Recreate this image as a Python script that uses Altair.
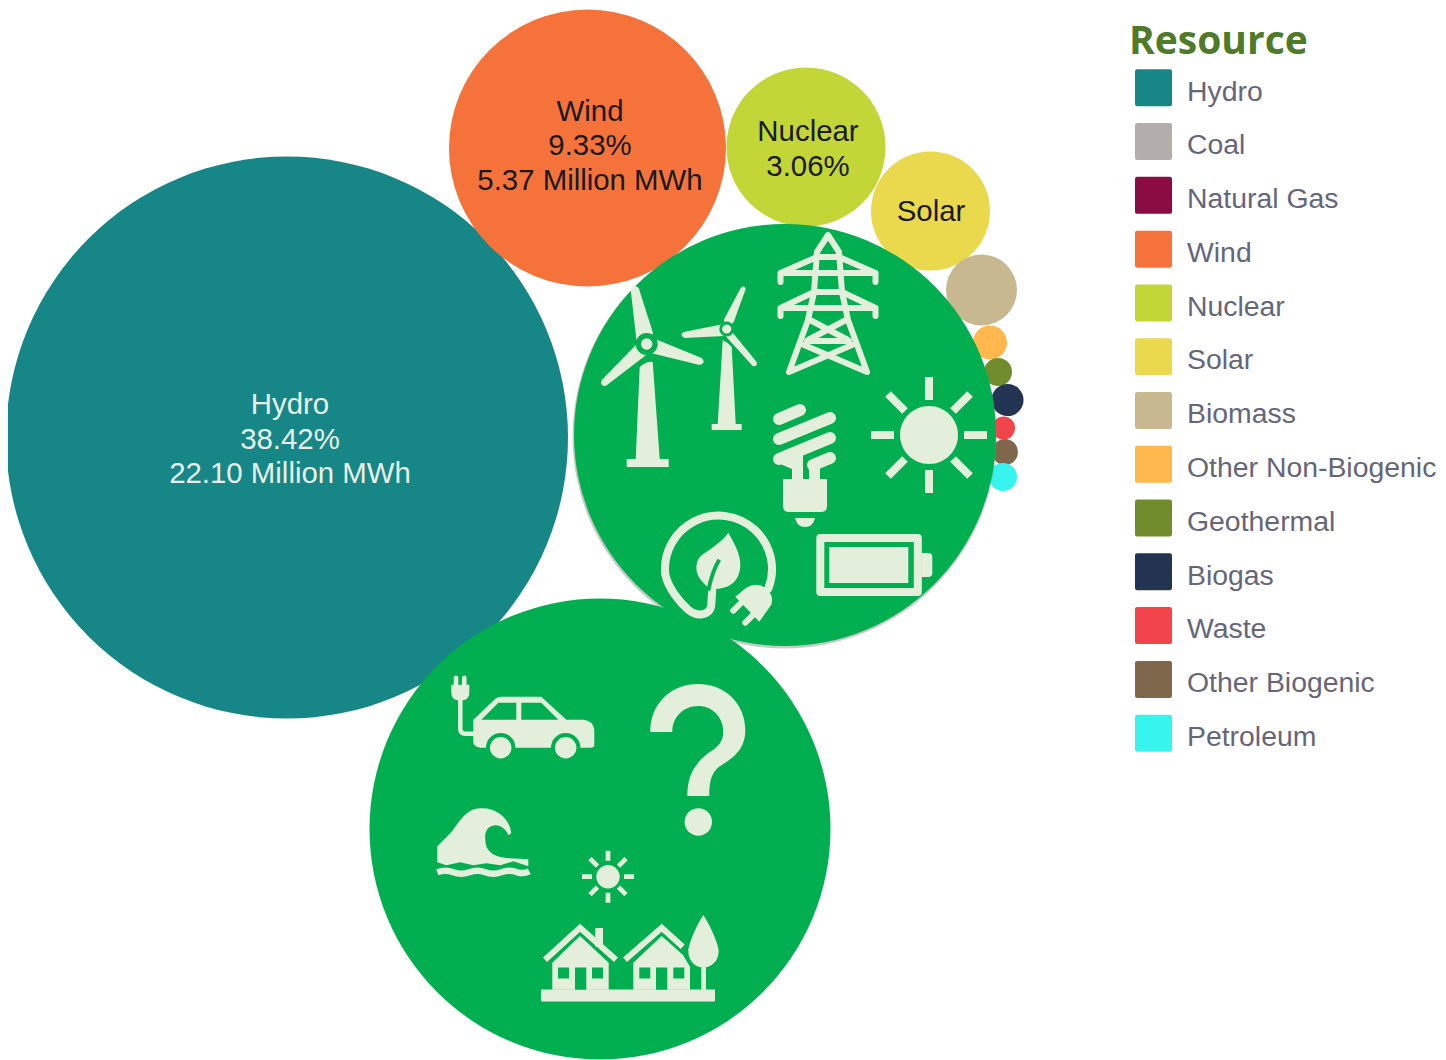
import altair as alt
import pandas as pd

# ---------- bubble data ----------
resources = ["Hydro", "Coal", "Natural Gas", "Wind", "Nuclear", "Solar", "Biomass",
             "Other Non-Biogenic", "Geothermal", "Biogas", "Waste", "Other Biogenic", "Petroleum"]
colors = ["#178686", "#b3aeab", "#8a0c42", "#f5733b", "#c2d638", "#ead84d", "#c7b88f",
          "#ffb84d", "#718c2c", "#223452", "#f2444b", "#7f674c", "#37f5ee"]
million_mwh = [22.10, 12.0, 14.6, 5.37, 1.77, 0.99, 0.353, 0.081, 0.055, 0.072, 0.037, 0.047, 0.055]
bubble_x = [287, 785, 600, 587.5, 806, 930.5, 981.5, 990, 998, 1007.5, 1003.5, 1005, 1003]
bubble_y = [437.5, 435, 829, 148, 147, 211, 290, 342.5, 372, 400, 428, 452, 477]

label_text = ["Hydro\n38.42%\n22.10 Million MWh", "Wind\n9.33%\n5.37 Million MWh", "Nuclear\n3.06%", "Solar"]
label_x = [290, 590, 808, 931]
label_y = [405, 111.5, 132, 211.5]
label_color = ["#e8efe8", "#1a1a1a", "#1a1a1a", "#1a1a1a"]

shadow_x = [784.5]
shadow_y = [436.5]
shadow_radius = [212]
cover_x = [785, 600]
cover_y = [435, 829]
cover_radius = [211, 230.5]

CREAM = "#e4efdb"
GREEN = "#02af50"
NONE = "transparent"


def circle(r):
    return f"M{r},0A{r},{r} 0 1,1 {-r},0A{r},{r} 0 1,1 {r},0Z"


# ---------- icon outlines, in pixels around each anchor ----------
T1 = ("M-16,-54L-10,-2L6,-2L6,-12L-8,-56Q-13,-61 -16,-54Z"
      "M6,-6L55,14Q60,19 53,21L0,8Z"
      "M-6,-4L-45,36Q-47,42 -41,42L6,6Z")
T1_TOWER = "M-7,23Q0,17 6,18L13,115H22V123H-20V115H-11Z"
T2 = ("M-3,-9L14,-41Q18,-45 19,-40L7,-7L0,0Z"
      "M-3,-5L-43,3Q-48,6 -42,9L-3,7Z"
      "M3,0L30,33Q31,38 26,37L-3,5Z")
T2_TOWER = "M-4,11Q2,14 5,18L9,95H15V101H-15V95H-9Z"
PYLON = ("M-39,72L-20,20L-14,-8L-11,-48L0,-65L11,-48L14,-8L20,20L39,72"
         "M-11,-43H11M-47.5,-18V-27H47.5V-18M-47.5,-27L-11,-43M47.5,-27L11,-43"
         "M-14,-8H14M-47.5,16V8H47.5V16M-47.5,8L-14,-8M47.5,8L14,-8"
         "M-18,20L20,40M18,20L-20,40M-21,41H21M-24,45L39,72M24,45L-39,72")
BULB_BARS = "M-26,-51L-5,-60M-26,-31L25,-52M-26,-11L25,-32M8,-5L25,-12"
BULB_BODY = ("M-22,9H22V36Q22,42 16,42H-16Q-22,42 -22,36Z"
             "M-10,48H10Q8,57 0,57Q-8,57 -10,48Z"
             "M-27,-12L-2,-18V12H-13V-1L-27,-7Z"
             "M4,12V-8L15,-5V12Z")
SUN_RAYS = ("M0,-35V-58M0,35V58M35,0H58M-35,0H-58"
            "M24,-24L41,-41M-24,-24L-41,-41M24,24L41,41M-24,24L-41,41")
SMALL_RAYS = ("M0,-16V-26M0,16V26M16,0H26M-16,0H-26"
              "M10.5,-10.5L18,-18M-10.5,-10.5L-18,-18M10.5,10.5L18,18M-10.5,10.5L-18,18")
BATTERY_BAND = "M-48,-27H49.5V27H-48Z"
BATTERY_CORE = "M-39,-18H40V18H-39ZM53,-12H60Q64,-12 64,-8V8Q64,12 60,12H53Z"
CORD = "M50,22A53.5,53.5 0 1,0 -53,8C-50,22 -38,36 -30,43C-22,50 -8,50 -7,38L-6,22"
PLUG_PINS = "M15,44L22,37M27,56L35,48"
LEAF = ("M10,-34C17,-22 22,-12 22,-2C22,13 12,22 -2,22L-11,20C-20,12 -24,4 -21,-5"
        "C-19,-12 -12,-14 -6,-19C0,-24 6,-28 10,-34Z")
VEIN = "M1,-7Q-6,4 -10,24"
PLUG = "M17,30L28,21Q38,15 47,21Q56,28 53,38L41,55Z"
CAR_BODY = ("M-60,-7L-38,-28Q-35,-30 -32,-30H8L33,-7H50Q61,-6 61,5V18Q61,21 57,21H-53Q-60,20 -60,15Z")
CAR_WINDOWS = "M-52,-7L-35,-24H-17V-7ZM-12,-24H8L25,-7H-12Z"
CAR_CORD = "M-60,7H-68Q-73,7 -73,2V-27M-77.3,-49V-42M-69,-49V-42"
CAR_HEAD = "M-82,-42H-64V-33Q-64,-27 -73,-26Q-82,-27 -82,-33Z"
QUESTION = ("M-48,-28C-48,-58 -26,-76 0,-76C27,-76 47,-56 47,-30C47,-13 38,-4 25,4"
            "C15,10 11,17 11,36H-11C-11,16 -4,4 10,-7C20,-13 25,-19 25,-28"
            "C25,-44 13,-54 0,-54C-15,-54 -26,-43 -26,-28Z")
WAVE = ("M-46,3L-33,-10C-26,-18 -18,-35 -3,-35C12,-36 26,-26 28,-10L25,-8"
        "C22,-16 14,-20 8,-17C1,-14 1,-6 3,3C6,12 18,15 27,15L45,16V23"
        "L30,18L17,22L3,20L-10,22L-23,19L-37,22L-46,19Z")
WAVE_LINE = "M-46,29Q-38,26 -30,29Q-22,32 -14,29Q-6,26 2,29Q10,32 18,29Q26,26 34,29Q40,31 46,28"
GROUND = "M-89,32.7H85V44.7H-89Z"
HOUSES = ("M-77.7,6L-50,-20.7L-21.3,6V33H-77.7Z"
          "M3.3,6L31.7,-20.7L53,-1.7L60,10V33H3.3Z"
          "M-34.7,-28.7H-27V-10H-34.7Z"
          "M71.3,5H76V33H71.3Z"
          "M73.3,-41.7C80,-32 88.7,-12 88.7,-6C88.7,4 82,10.7 73.3,10.7"
          "C64.7,10.7 58.3,4 58.3,-6C58.3,-12 66.7,-32 73.3,-41.7Z")
HOUSE_CUTS = ("M-72,10.7H-61V21.7H-72ZM-38,10.7H-27V21.7H-38ZM-55,10.7H-43.7V33H-55Z"
              "M9.3,10.7H20.3V21.7H9.3ZM43.3,10.7H54.3V21.7H43.3ZM26,10.7H37.3V33H26Z")
ROOFS = "M-85,3L-50,-29L-14,3M-5,3L31.7,-29L52.7,-10"

# ---------- icon parts with round caps and joins ----------
round_x = [828, 805, 868.3, 718.3, 718.3, 533.3]
round_y = [300, 470, 565, 566.7, 566.7, 726.7]
round_path = [PYLON, BULB_BARS, BATTERY_BAND, CORD, PLUG_PINS, CAR_CORD]
round_width = [6, 12, 8, 8, 6, 4.5]

# ---------- icon parts with square ends, painted in this order ----------
part_x = [646.7, 646.7, 646.7, 726.7, 726.7, 726.7, 805, 929, 929, 868.3, 718.3, 718.3, 718.3,
          533.3, 533.3, 500.7, 565.7, 533.3, 698.3, 698.3, 483.3, 483.3, 608, 608,
          630, 630, 630, 630]
part_y = [344, 344, 344, 329, 329, 329, 470, 435, 435, 565, 566.7, 566.7, 566.7,
          726.7, 726.7, 747.7, 747.7, 726.7, 760, 822, 843.3, 843.3, 876.7, 876.7,
          956.7, 956.7, 956.7, 956.7]
part_path = [T1, T1_TOWER, circle(8.35), T2, T2_TOWER, circle(6), BULB_BODY, circle(29), SUN_RAYS,
             BATTERY_CORE, LEAF, VEIN, PLUG,
             CAR_BODY, CAR_WINDOWS, circle(12.7), circle(12.7), CAR_HEAD, QUESTION, circle(13.7),
             WAVE, WAVE_LINE, circle(11.7), SMALL_RAYS,
             GROUND, HOUSES, HOUSE_CUTS, ROOFS]
part_fill = [CREAM, CREAM, CREAM, CREAM, CREAM, CREAM, CREAM, CREAM, NONE,
             CREAM, CREAM, NONE, CREAM,
             CREAM, GREEN, CREAM, CREAM, CREAM, CREAM, CREAM,
             CREAM, NONE, CREAM, NONE,
             CREAM, CREAM, GREEN, NONE]
part_stroke = [NONE, NONE, GREEN, NONE, NONE, GREEN, NONE, NONE, CREAM,
               NONE, NONE, GREEN, NONE,
               NONE, NONE, GREEN, GREEN, NONE, NONE, NONE,
               NONE, CREAM, NONE, CREAM,
               NONE, NONE, NONE, CREAM]
part_width = [0, 0, 5.3, 0, 0, 2.8, 0, 0, 8,
              0, 0, 4, 0,
              0, 0, 4, 4, 0, 0, 0,
              0, 6.5, 0, 4.7,
              0, 0, 0, 6]

# ---------- tables ----------
bubbles = pd.DataFrame({"Resource": resources, "value": million_mwh, "x": bubble_x, "y": bubble_y})
labels = pd.DataFrame({"x": label_x, "y": label_y, "text": label_text, "color": label_color})
shadows = pd.DataFrame({"x": shadow_x, "y": shadow_y, "area": [4 * r * r for r in shadow_radius]})
covers = pd.DataFrame({"x": cover_x, "y": cover_y, "area": [4 * r * r for r in cover_radius]})
round_parts = pd.DataFrame({"x": round_x, "y": round_y, "path": round_path, "w": round_width})
parts = pd.DataFrame({"x": part_x, "y": part_y, "path": part_path, "fill": part_fill,
                      "stroke": part_stroke, "w": part_width})

X = alt.X("x:Q", scale=alt.Scale(domain=[8, 1438], nice=False, zero=False), axis=None)
Y = alt.Y("y:Q", scale=alt.Scale(domain=[1060, 8], nice=False, zero=False), axis=None)

# legend swatch: rounded square sitting slightly above its label's centre, as in the reference
ROUNDED = "M-0.88,-1.2H0.88Q1,-1.2 1,-1.08V0.68Q1,0.8 0.88,0.8H-0.88Q-1,0.8 -1,0.68V-1.08Q-1,-1.2 -0.88,-1.2Z"

bubble_layer = alt.Chart(bubbles).mark_circle().encode(
    x=X, y=Y,
    opacity=alt.value(1),
    size=alt.Size("value:Q", legend=None,
                  scale=alt.Scale(type="linear", domain=[0, 22.10], range=[0, 4 * 281 * 281], zero=True)),
    color=alt.Color("Resource:N", sort=None,
                    scale=alt.Scale(domain=resources, range=colors),
                    legend=alt.Legend(
                        title="Resource", orient="none", legendX=1121, legendY=15, padding=0,
                        titleFont="Open Sans", titleFontSize=39, titleFontWeight="bold",
                        titleColor="#4f7a28", titlePadding=11, titleLimit=500,
                        labelFont="Liberation Sans", labelFontSize=28.4, labelColor="#66667a",
                        labelLimit=320, labelOffset=15, labelFontWeight="normal",
                        symbolType=ROUNDED, symbolSize=1369, symbolStrokeWidth=0, symbolOpacity=1,
                        symbolOffset=6, rowPadding=15.78, values=resources)),
)
text_layer = alt.Chart(labels).mark_text(
    font="Liberation Sans", fontSize=29.4, lineBreak="\n", lineHeight=34.5, baseline="middle", align="center"
).encode(x=X, y=Y, text="text:N", color=alt.Color("color:N", scale=None))
shadow_layer = alt.Chart(shadows).mark_circle(color="#8a8a8a", opacity=0.45).encode(
    x=X, y=Y, size=alt.Size("area:Q", scale=None))
cover_layer = alt.Chart(covers).mark_circle(color=GREEN, opacity=1).encode(
    x=X, y=Y, size=alt.Size("area:Q", scale=None))
round_layer = alt.Chart(round_parts).mark_point(
    size=4, opacity=1, fill="transparent", stroke=CREAM, strokeCap="round", strokeJoin="round"
).encode(x=X, y=Y, shape=alt.Shape("path:N", scale=None), strokeWidth=alt.StrokeWidth("w:Q", scale=None))
part_layer = alt.Chart(parts).mark_point(size=4, opacity=1, filled=True).encode(
    x=X, y=Y,
    shape=alt.Shape("path:N", scale=None),
    fill=alt.Fill("fill:N", scale=None),
    stroke=alt.Stroke("stroke:N", scale=None),
    strokeWidth=alt.StrokeWidth("w:Q", scale=None),
)

chart = alt.layer(bubble_layer, text_layer, shadow_layer, cover_layer, round_layer, part_layer).properties(
    width=1430, height=1052, padding=0,
    autosize=alt.AutoSizeParams(type="none"),
).configure_view(stroke=None).configure_legend(symbolOpacity=1)

chart.save("out.html", embed_options={"renderer": "svg", "actions": False})
